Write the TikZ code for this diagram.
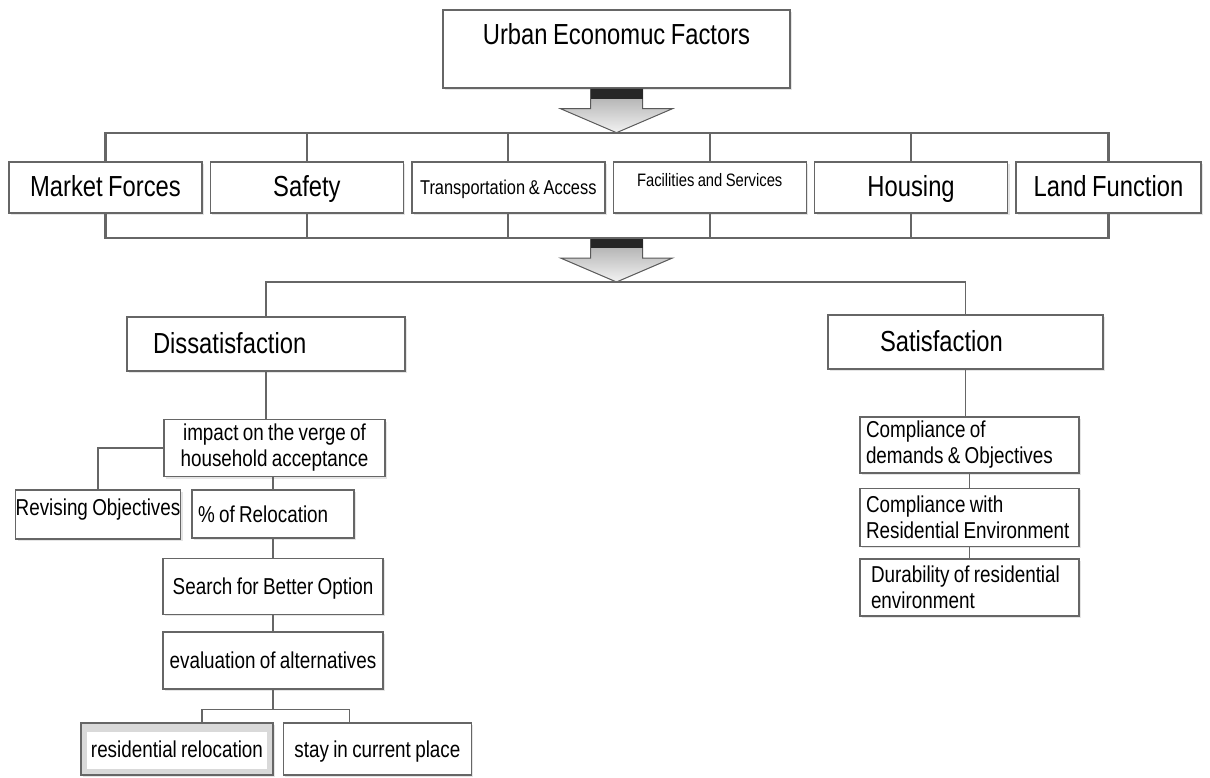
\documentclass[tikz,border=0pt]{standalone}
\usepackage{fontspec}
\setmainfont{Liberation Sans}[FakeStretch=0.82, WordSpace=0.82]
\usetikzlibrary{positioning, shadows, calc}

\tikzstyle{factor} = [rectangle, minimum width=193pt, minimum height=51pt, inner sep=0pt, text centered, draw=black!60, line width=1.4pt, fill=white, drop shadow={shadow xshift=2pt, shadow yshift=-2pt, fill=black!20}, font=\fontsize{29}{33}\selectfont, text height=21pt, text depth=2pt]
\tikzstyle{midbox} = [factor, font=\fontsize{23}{26}\selectfont, text height=17pt, text depth=1pt]
\tikzstyle{listbox} = [rectangle, minimum width=219pt, inner xsep=6pt, inner ysep=4pt, text width=207pt, align=flush left, draw=black!60, line width=1.4pt, fill=white, drop shadow={shadow xshift=2pt, shadow yshift=-2pt, fill=black!20}, font=\fontsize{23}{26}\selectfont]
\tikzstyle{link} = [draw=black!60, line width=1.4pt]
\tikzstyle{bar} = [draw=black!60, line width=2.2pt]
\tikzset{bigarrow/.pic={
	\shade [top color=black!35, bottom color=black!5, draw=black!65, line width=1pt] (-26,0) -- (26,0) -- (26,20) -- (56,20) -- (0,44) -- (-56,20) -- (-26,20) -- cycle;
	\fill [black!85] (-26,0) rectangle (26,10);
}}

\begin{document}
\begin{tikzpicture}[x=1pt, y=-1pt]
		\path [use as bounding box, fill=white] (0,0) rectangle (1210,778);
		\coordinate (topbar) at (0,133);
		\coordinate (botbar) at (0,238);
		\coordinate (splitline) at (0,282);

		\node (urban) [factor, minimum width=347pt, minimum height=78pt, text height=35pt, text depth=43pt] at (616.5,49) {Urban Economuc Factors};

		\node (mf) [factor] at (105.5,187.5) {Market Forces};
		\node (saf) [factor, right=7pt of mf] {Safety};
		\node (trn) [factor, right=7pt of saf, font=\fontsize{20}{24}\selectfont, text height=14.5pt, text depth=1pt] {Transportation \& Access};
		\node (fac) [factor, right=7pt of trn, font=\fontsize{18}{22}\selectfont, text height=25pt, text depth=26pt] {Facilities and Services};
		\node (hou) [factor, right=7pt of fac] {Housing};
		\node (lnd) [factor, right=7pt of hou, minimum width=185pt] {Land Function};

		\node (dis) [factor, minimum width=278pt, minimum height=54pt, inner xsep=26pt, text width=226pt, align=flush left] at (266,344) {Dissatisfaction};
		\node (sat) [factor, minimum width=275pt, minimum height=54pt, inner xsep=52pt, text width=171pt, align=flush left] at (965.5,342) {Satisfaction};

		\node (imp) [midbox, minimum width=221pt, minimum height=57pt, align=center, text height=, text depth=] at (274.5,448) {impact on the verge of\\household acceptance};
		\node (rev) [midbox, minimum width=165pt, minimum height=49pt, text depth=15.5pt] at (98,514.5) {Revising Objectives};
		\node (pct) [midbox, minimum width=162pt, minimum height=48pt, inner xsep=6pt, text width=150pt, align=flush left] at (273,514) {\% of Relocation};
		\node (srch) [midbox, minimum width=220pt, minimum height=56pt, below=19pt of pct] {Search for Better Option};
		\node (evl) [midbox, minimum width=220pt, minimum height=57pt, below=16pt of srch] {evaluation of alternatives};
		\node (res) [midbox, minimum width=192pt, minimum height=52pt, fill=black!15, path picture={\fill [white] ([shift={(6pt,6pt)}]path picture bounding box.south west) rectangle ([shift={(-6pt,-9pt)}]path picture bounding box.north east);}] at (177,749) {residential relocation};
		\node (stay) [midbox, minimum width=188pt, minimum height=52pt, right=9pt of res] {stay in current place};

		\node (cmp1) [listbox, minimum height=56pt] at (969.5,445) {Compliance of\\demands \& Objectives};
		\node (cmp2) [listbox, minimum height=58pt, below=14pt of cmp1] {Compliance with\\Residential Environment};
		\node (dur) [listbox, minimum height=57pt, below=11pt of cmp2, inner xsep=6pt] {\hspace*{5pt}Durability of residential\\\hspace*{5pt}environment};

		% block arrows
		\pic at (urban.south) {bigarrow};
		\pic at (urban.south |- botbar) {bigarrow};

		% bars round the factors
		\draw [bar] (mf.north) -- (mf.north |- topbar) -- (lnd.north |- topbar) -- (lnd.north);
		\draw [bar] (mf.south) -- (mf.south |- botbar) -- (lnd.south |- botbar) -- (lnd.south);
		\foreach \n in {saf,trn,fac,hou} {
			\draw [bar] (\n.north) -- (\n.north |- topbar);
			\draw [bar] (\n.south) -- (\n.south |- botbar);
		}

		\draw [link] (dis.north) -- (dis.north |- splitline) -- (sat.north |- splitline) -- (sat.north);

		% dissatisfaction branch
		\draw [link] (dis.south) -- (dis.south |- imp.north);
		\draw [link] (imp.west) -| (rev.north);
		\draw [link] (pct.north |- imp.south) -- (pct.north);
		\draw [link] (pct.south) -- (pct.south |- srch.north);
		\draw [link] (srch) -- (evl);
		\draw [link] (evl.south) -- ++(0,20) coordinate (fork);
		\draw [link] ([xshift=25pt]res.north) |- (fork) -| ([xshift=-28pt]stay.north);

		% satisfaction branch
		\draw [link] (sat.south) -- (sat.south |- cmp1.north);
		\draw [link] (cmp1) -- (cmp2);
		\draw [link] (cmp2) -- (dur);
	\end{tikzpicture}
\end{document}
